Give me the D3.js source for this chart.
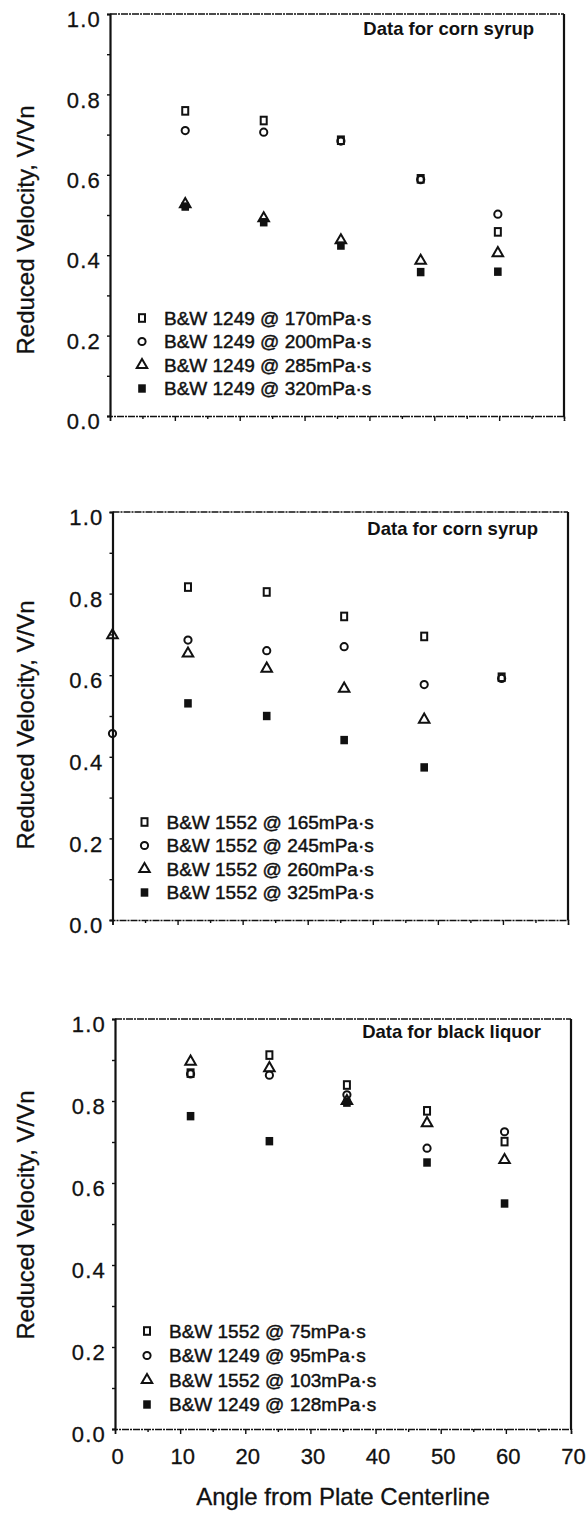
<!DOCTYPE html>
<html>
<head>
<meta charset="utf-8">
<script src="https://cdn.jsdelivr.net/npm/d3@7"></script>
<style>
  html, body { margin: 0; padding: 0; background: #fff; }
  svg { display: block; }
  text { font-family: "Liberation Sans", Arial, Helvetica, sans-serif; fill: #111; }
</style>
</head>
<body>
<svg id="chart" width="587" height="1517"></svg>
<script>
// Angle from plate centerline (degrees) at each measuring station
const angles = [11.6, 23.7, 35.6, 47.9, 59.8];
const anglesWithCenter = [0, 11.6, 23.7, 35.6, 47.9, 59.8];

// Panel A: corn syrup, B&W 1249 plate
const cornA_labels = ["B&W 1249 @ 170mPa·s", "B&W 1249 @ 200mPa·s", "B&W 1249 @ 285mPa·s", "B&W 1249 @ 320mPa·s"];
const cornA_170 = [0.759, 0.735, 0.686, 0.590, 0.458];
const cornA_200 = [0.710, 0.706, 0.684, 0.588, 0.502];
const cornA_285 = [0.527, 0.492, 0.437, 0.386, 0.405];
const cornA_320 = [0.521, 0.482, 0.424, 0.358, 0.359];

// Panel B: corn syrup, B&W 1552 plate (includes the centerline station)
const cornB_labels = ["B&W 1552 @ 165mPa·s", "B&W 1552 @ 245mPa·s", "B&W 1552 @ 260mPa·s", "B&W 1552 @ 325mPa·s"];
const cornB_165 = [null, 0.816, 0.804, 0.744, 0.695, 0.595];
const cornB_245 = [0.457, 0.686, 0.660, 0.670, 0.577, 0.592];
const cornB_260 = [0.698, 0.653, 0.616, 0.567, 0.491, null];
const cornB_325 = [null, 0.531, 0.500, 0.441, 0.374, null];

// Panel C: black liquor, both plates
const liquor_labels = ["B&W 1552 @ 75mPa·s", "B&W 1249 @ 95mPa·s", "B&W 1552 @ 103mPa·s", "B&W 1249 @ 128mPa·s"];
const liquor_75  = [0.868, 0.912, 0.839, 0.776, 0.701];
const liquor_95  = [0.866, 0.863, 0.815, 0.685, 0.725];
const liquor_103 = [0.896, 0.880, 0.800, 0.746, 0.656];
const liquor_128 = [0.763, 0.702, 0.796, 0.650, 0.550];

const panelTitles = ["Data for corn syrup", "Data for corn syrup", "Data for black liquor"];
const yTickValues = [0, 0.1, 0.2, 0.3, 0.4, 0.5, 0.6, 0.7, 0.8, 0.9, 1.0];
const xTickValues = [0, 5, 10, 15, 20, 25, 30, 35, 40, 45, 50, 55, 60, 65, 70];
const xTickLabels = ["0", "10", "20", "30", "40", "50", "60", "70"];
const yTitle = "Reduced Velocity, V/Vn";
const xTitle = "Angle from Plate Centerline";

// marker kinds, in legend order
const markerKinds = ["openSquare", "openCircle", "openTriangle", "filledSquare"];

const panelsData = [
  { x: angles, series: [cornA_170, cornA_200, cornA_285, cornA_320], labels: cornA_labels, title: panelTitles[0] },
  { x: anglesWithCenter, series: [cornB_165, cornB_245, cornB_260, cornB_325], labels: cornB_labels, title: panelTitles[1] },
  { x: angles, series: [liquor_75, liquor_95, liquor_103, liquor_128], labels: liquor_labels, title: panelTitles[2] }
];

// frame placement of each panel on the page
const frames = [
  { left: 110, right: 564, top: 14,   bottom: 416,  yTitleY: 230,  legendGap: 23.5, titleDy: 21 },
  { left: 112.5, right: 568, top: 512, bottom: 920, yTitleY: 725,  legendGap: 23.5, titleDy: 23 },
  { left: 115, right: 571, top: 1019, bottom: 1429, yTitleY: 1215, legendGap: 24.5, titleDy: 19 }
];

const svg = d3.select("#chart");
const ink = "#111";
const sw = 2;

function drawMarker(g, kind, cx, cy) {
  if (kind === "openSquare") {
    g.append("rect").attr("x", cx - 3).attr("y", cy - 3.8).attr("width", 6).attr("height", 7.6)
      .attr("fill", "none").attr("stroke", ink).attr("stroke-width", sw);
  } else if (kind === "openCircle") {
    g.append("circle").attr("cx", cx).attr("cy", cy).attr("r", 3.6)
      .attr("fill", "none").attr("stroke", ink).attr("stroke-width", sw);
  } else if (kind === "openTriangle") {
    g.append("path").attr("d", d3.symbol(d3.symbolTriangle, 48)())
      .attr("transform", `translate(${cx},${cy})`)
      .attr("fill", "none").attr("stroke", ink).attr("stroke-width", sw).attr("stroke-linejoin", "miter");
  } else {
    g.append("rect").attr("x", cx - 3.8).attr("y", cy - 4.2).attr("width", 7.6).attr("height", 8.4)
      .attr("fill", ink);
  }
}

panelsData.forEach((pd, pi) => {
  const f = frames[pi];
  const x = d3.scaleLinear().domain([0, 70]).range([f.left, f.right]);
  const y = d3.scaleLinear().domain([0, 1]).range([f.bottom, f.top]);
  const g = svg.append("g");

  // left axis with ticks every 0.1, labels every 0.2
  const yAxis = d3.axisLeft(y).tickValues(yTickValues).tickSize(3).tickPadding(6)
    .tickFormat(d => (Math.round(d * 10) % 2 === 0) ? d3.format(".1f")(d) : "");
  const ya = g.append("g").attr("transform", `translate(${f.left},0)`).call(yAxis);
  ya.select(".domain").attr("stroke", ink).attr("stroke-width", 2.2);
  ya.selectAll(".tick line").attr("stroke", ink).attr("stroke-width", 1.4);
  ya.selectAll(".tick text").attr("font-size", 22).attr("dy", "0.58em").attr("fill", ink)
    .attr("letter-spacing", 1.2).attr("stroke", ink).attr("stroke-width", 0.3)
    .attr("font-family", "'Liberation Sans', Arial, sans-serif");

  // bottom axis: major ticks each 10 degrees, minor each 5
  const xAxis = d3.axisBottom(x).tickValues(xTickValues).tickSize(5).tickPadding(14)
    .tickFormat(d => (pi === 2 && d % 10 === 0) ? xTickLabels[d / 10] : "");
  const xa = g.append("g").attr("transform", `translate(0,${f.bottom})`).call(xAxis);
  xa.select(".domain").attr("stroke", ink).attr("stroke-width", 1.5).attr("stroke-dasharray", "7 1 2 1");
  xa.selectAll(".tick line").attr("stroke", ink).attr("stroke-width", 1.4)
    .attr("y2", d => d % 10 === 0 ? 5 : 3);
  xa.selectAll(".tick text").attr("font-size", 22).attr("fill", ink).attr("dx", 2)
    .attr("stroke", ink).attr("stroke-width", 0.3)
    .attr("font-family", "'Liberation Sans', Arial, sans-serif");

  // top and right frame
  g.append("line").attr("x1", f.left).attr("x2", f.right).attr("y1", f.top).attr("y2", f.top)
    .attr("stroke", ink).attr("stroke-width", 1.5).attr("stroke-dasharray", "7 1 2 1");
  g.append("line").attr("x1", f.right).attr("x2", f.right).attr("y1", f.top).attr("y2", f.bottom)
    .attr("stroke", ink).attr("stroke-width", 2.2);

  // panel title
  g.append("text").attr("x", f.right - 30).attr("y", f.top + f.titleDy)
    .attr("text-anchor", "end").attr("font-size", 18.5).attr("font-weight", "bold")
    .text(pd.title);

  // y-axis title
  g.append("text").attr("transform", `translate(34,${f.yTitleY}) rotate(-90)`)
    .attr("text-anchor", "middle").attr("font-size", 24)
    .attr("stroke", ink).attr("stroke-width", 0.3).text(yTitle);

  // data markers
  const mg = g.append("g");
  pd.series.forEach((vals, si) => {
    vals.forEach((v, i) => {
      if (v === null) return;
      drawMarker(mg, markerKinds[si], x(pd.x[i]), y(v));
    });
  });

  // legend
  const lg = g.append("g");
  pd.labels.forEach((lab, si) => {
    const cy = f.bottom - 98 + si * f.legendGap;
    drawMarker(lg, markerKinds[si], f.left + 32, cy);
    lg.append("text").attr("x", f.left + 54).attr("y", cy).attr("dy", "0.36em")
      .attr("font-size", 19).attr("stroke", ink).attr("stroke-width", 0.45).text(lab);
  });

  // x-axis title under the last panel
  if (pi === 2) {
    g.append("text").attr("x", (f.left + f.right) / 2).attr("y", 1505)
      .attr("text-anchor", "middle").attr("font-size", 24)
      .attr("stroke", ink).attr("stroke-width", 0.3).text(xTitle);
  }
});
</script>
</body>
</html>
